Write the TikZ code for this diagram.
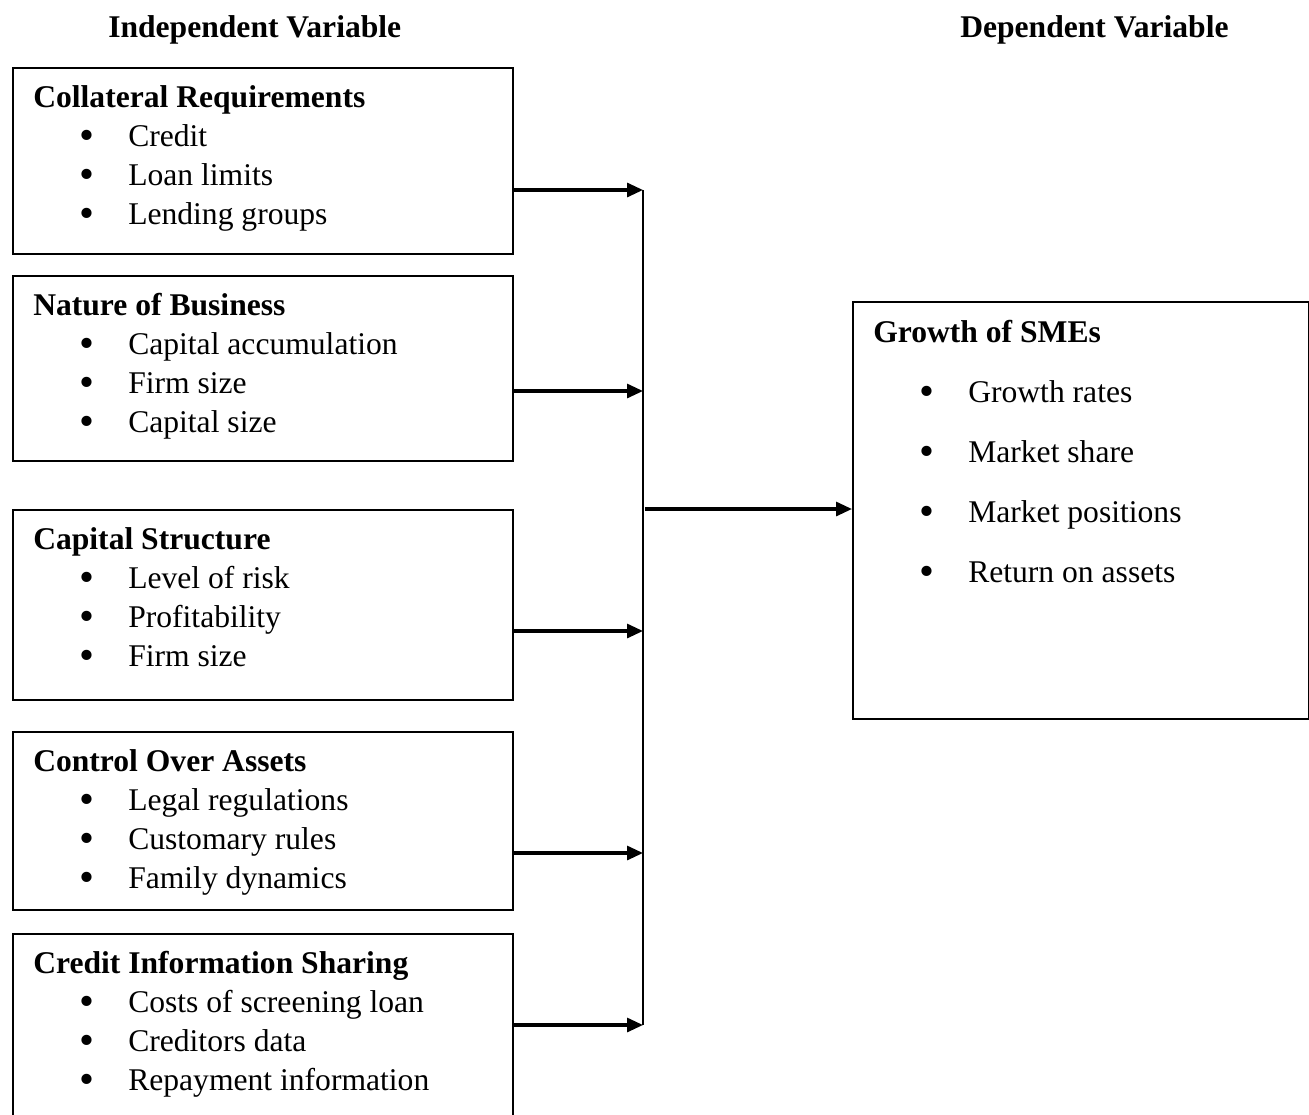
\documentclass[tikz,border=0pt]{standalone}
\usepackage{fontspec}
\setmainfont{Liberation Serif}
\usetikzlibrary{arrows.meta}
\newcommand\bodyfont{\fontsize{23.7}{29.25}\selectfont}
\newcommand\itm{\llap{\raisebox{-2.5pt}{\scalebox{1.35}{\textbullet}}\hspace{25.2pt}}}
\tikzset{
  box/.style={draw, line width=1.4pt, anchor=north west, inner sep=0pt},
  head/.style={anchor=base west, inner sep=0pt, font=\bodyfont\bfseries},
  item/.style={anchor=base west, inner sep=0pt},
  arr/.style={line width=2.3pt, -{Triangle[length=12pt, width=10.5pt]}},
}
\begin{document}
\begin{tikzpicture}[x=0.75pt, y=-0.75pt, font=\bodyfont]
\useasboundingbox (0,0) rectangle (1309,1114);
\clip (0,0) rectangle (1309,1114);
% headings
\node[head] (indep) at (108,37) {Independent Variable};
\node[head] (dep) at (960,37) {Dependent Variable};
% independent variables
\node[box, minimum width=375pt, minimum height=139.5pt] (cr) at (12,67) {};
\node[head] (crt) at (33,107) {Collateral Requirements};
\foreach \t [count=\i] in {Credit, Loan limits, Lending groups}
  \node[item] (cr\i) at (128,107+39*\i) {\itm\t};
\node[box, minimum width=375pt, minimum height=138.75pt] (nb) at (12,275) {};
\node[head] (nbt) at (33,315) {Nature of Business};
\foreach \t [count=\i] in {Capital accumulation, Firm size, Capital size}
  \node[item] (nb\i) at (128,315+39*\i) {\itm\t};
\node[box, minimum width=375pt, minimum height=142.5pt] (cs) at (12,509) {};
\node[head] (cst) at (33,549) {Capital Structure};
\foreach \t [count=\i] in {Level of risk, Profitability, Firm size}
  \node[item] (cs\i) at (128,549+39*\i) {\itm\t};
\node[box, minimum width=375pt, minimum height=133.5pt] (ca) at (12,731) {};
\node[head] (cat) at (33,771) {Control Over Assets};
\foreach \t [count=\i] in {Legal regulations, Customary rules, Family dynamics}
  \node[item] (ca\i) at (128,771+39*\i) {\itm\t};
\node[box, minimum width=375pt, minimum height=150pt] (ci) at (12,933) {};
\node[head] (cit) at (33,973) {Credit Information Sharing};
\foreach \t [count=\i] in {Costs of screening loan, Creditors data, Repayment information}
  \node[item] (ci\i) at (128,973+39*\i) {\itm\t};
% dependent variable
\node[box, minimum width=342pt, minimum height=312.75pt] (gr) at (852,301) {};
\node[head] (grt) at (873,342) {Growth of SMEs};
\foreach \t [count=\i] in {Growth rates, Market share, Market positions, Return on assets}
  \node[item] (gr\i) at (968,342+60*\i) {\itm\t};
% connectors
\coordinate (j1) at (643,190);
\coordinate (j2) at (643,391);
\coordinate (j3) at (643,631);
\coordinate (j4) at (643,853);
\coordinate (j5) at (643,1025);
\coordinate (jm) at (645,509);
\draw[line width=1.5pt] (j1) -- (j5);
\draw[arr] (cr.east |- j1) -- (j1);
\draw[arr] (nb.east |- j2) -- (j2);
\draw[arr] (cs.east |- j3) -- (j3);
\draw[arr] (ca.east |- j4) -- (j4);
\draw[arr] (ci.east |- j5) -- (j5);
\draw[arr] (jm) -- (gr.west |- jm);
\end{tikzpicture}
\end{document}
